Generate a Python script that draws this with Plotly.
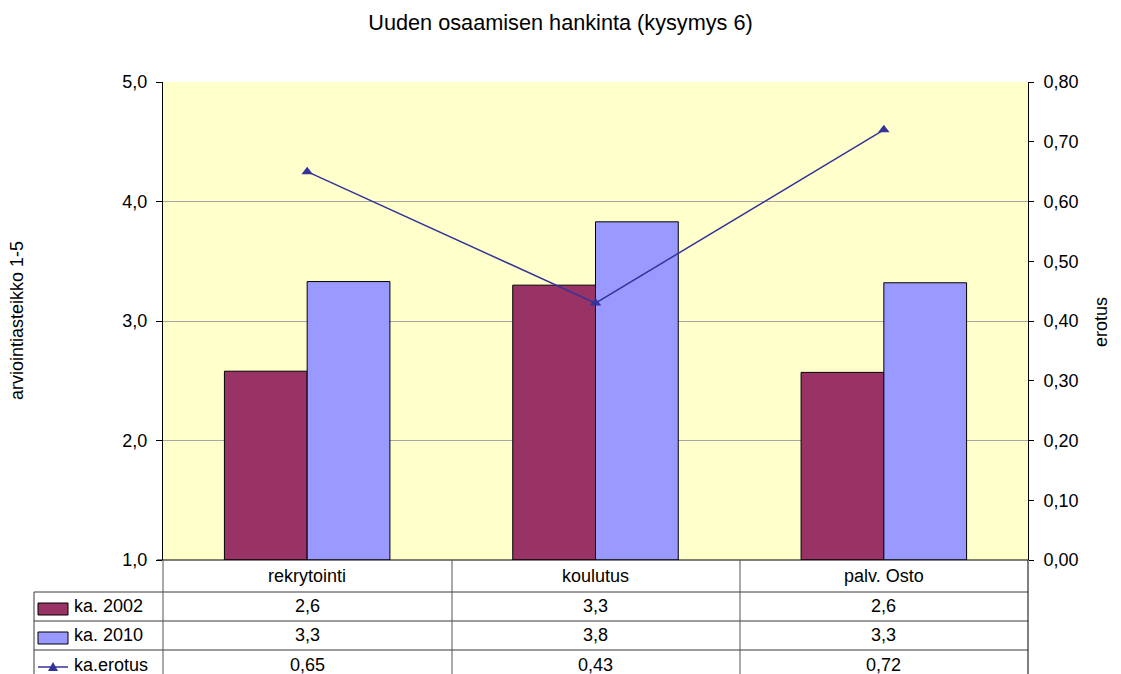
import plotly.graph_objects as go

# Data
categories = ["rekrytointi", "koulutus", "palv. Osto"]
ka_2002 = [2.58, 3.30, 2.57]
ka_2010 = [3.33, 3.83, 3.32]
ka_erotus = [0.65, 0.43, 0.72]

W, H = 1121, 674
FONT = "Arial, Liberation Sans, sans-serif"
FS = 18
C2002 = "#993366"
C2010 = "#9999FF"
CLINE = "#333399"
AXIS_FLOOR = 1.0


def px(x):
    return x / W


def py(y):
    return 1 - y / H


def fmt(v, nd):
    return f"{v:.{nd}f}".replace(".", ",")


# plot area in pixels
L, R, T, B = 163, 1028, 82, 560

fig = go.Figure()
# bars rise from the 1,0 floor of the left axis
fig.add_trace(go.Bar(x=categories, y=[v - AXIS_FLOOR for v in ka_2002],
                     base=[AXIS_FLOOR] * len(categories), name="ka. 2002",
                     marker=dict(color=C2002, line=dict(color="black", width=1))))
fig.add_trace(go.Bar(x=categories, y=[v - AXIS_FLOOR for v in ka_2010],
                     base=[AXIS_FLOOR] * len(categories), name="ka. 2010",
                     marker=dict(color=C2010, line=dict(color="black", width=1))))
fig.add_trace(go.Scatter(x=categories, y=ka_erotus, name="ka.erotus", yaxis="y2",
                         mode="lines+markers",
                         line=dict(color=CLINE, width=1.5),
                         marker=dict(symbol="triangle-up", size=10, color=CLINE)))

shapes = []
line_col = "#3a3a3a"


def hline(y, x0, x1, color=line_col):
    shapes.append(dict(type="line", xref="paper", yref="paper",
                       x0=px(x0), x1=px(x1), y0=py(y), y1=py(y),
                       line=dict(color=color, width=1)))


def vline(x, y0, y1, color=line_col):
    shapes.append(dict(type="line", xref="paper", yref="paper",
                       x0=px(x), x1=px(x), y0=py(y0), y1=py(y1),
                       line=dict(color=color, width=1)))


# data table grid under the plot
hline(B, 157, R, "black")
for yy in (592, 621, 650):
    hline(yy, 34, R)
for xx in (L, 452, 740):
    vline(xx, B, H + 2, "#555555")
vline(R, B, H + 2, "black")
vline(34, 592, H + 2)

# legend keys inside the table
shapes.append(dict(type="rect", xref="paper", yref="paper",
                   x0=px(38), x1=px(68), y0=py(603), y1=py(615),
                   fillcolor=C2002, line=dict(color="black", width=1)))
shapes.append(dict(type="rect", xref="paper", yref="paper",
                   x0=px(38), x1=px(68), y0=py(632), y1=py(644),
                   fillcolor=C2010, line=dict(color="black", width=1)))
shapes.append(dict(type="line", xref="paper", yref="paper",
                   x0=px(38), x1=px(68), y0=py(667), y1=py(667),
                   line=dict(color=CLINE, width=1.5)))
tx, ty = 53, 667
shapes.append(dict(type="path", xref="paper", yref="paper",
                   path=f"M {px(tx-5)},{py(ty+4)} L {px(tx+5)},{py(ty+4)} L {px(tx)},{py(ty-5)} Z",
                   fillcolor=CLINE, line=dict(color=CLINE, width=0)))

annotations = []


def text(x, y, s, xanchor="center", size=FS, angle=0):
    annotations.append(dict(x=px(x), y=py(y), xref="paper", yref="paper",
                            text=s, showarrow=False, xanchor=xanchor,
                            yanchor="middle", textangle=angle,
                            font=dict(family=FONT, size=size, color="black")))


col_w = (R - L) / len(categories)
rows = [(606, ka_2002, 1), (635, ka_2010, 1), (665, ka_erotus, 2)]
for i, cat in enumerate(categories):
    cx = L + col_w * (i + 0.5)
    text(cx, 576, cat)
    for yy, vals, nd in rows:
        text(cx, yy, fmt(vals[i], nd))

text(72, 606, "ka. 2002", "left")
text(72, 635, "ka. 2010", "left")
text(72, 665, "ka.erotus", "left")

# axis titles
text(17, 321, "arviointiasteikko 1-5", angle=-90)
text(1101, 322, "erotus", angle=-90)

fig.update_layout(
    width=W, height=H, autosize=False,
    margin=dict(l=0, r=0, t=0, b=0, pad=0),
    paper_bgcolor="white",
    plot_bgcolor="#FFFFCC",
    separators=", ",
    showlegend=False,
    barmode="group",
    bargap=0.426,
    bargroupgap=0,
    title=dict(text="Uuden osaamisen hankinta (kysymys 6)", x=0.5, xanchor="center",
               xref="container", yref="container",
               y=py(22), yanchor="middle",
               font=dict(family=FONT, size=21.7, color="black")),
    font=dict(family=FONT, size=FS, color="black"),
    xaxis=dict(domain=[px(L), px(R)], range=[-0.5, 2.5], type="category",
               showticklabels=False, ticks="", showgrid=False, zeroline=False,
               showline=False, automargin=False),
    yaxis=dict(domain=[py(B), py(T)], range=[1, 5], dtick=1, tick0=1,
               tickformat=".1f", showline=True, linecolor="black", linewidth=1,
               ticks="outside", ticklen=6, tickcolor="black",
               showgrid=True, gridcolor="#A6A6A6", gridwidth=1, zeroline=False,
               ticklabelstandoff=5, automargin=False,
               tickfont=dict(family=FONT, size=FS)),
    yaxis2=dict(domain=[py(B), py(T)], range=[0, 0.8], dtick=0.1, tick0=0,
                tickformat=".2f", overlaying="y", side="right", anchor="x",
                showline=True, linecolor="black", linewidth=1,
                ticks="outside", ticklen=5, tickcolor="black",
                showgrid=False, zeroline=False, ticklabelstandoff=6,
                automargin=False, tickfont=dict(family=FONT, size=FS)),
    shapes=shapes,
    annotations=annotations,
)

fig.write_html("out.html")
